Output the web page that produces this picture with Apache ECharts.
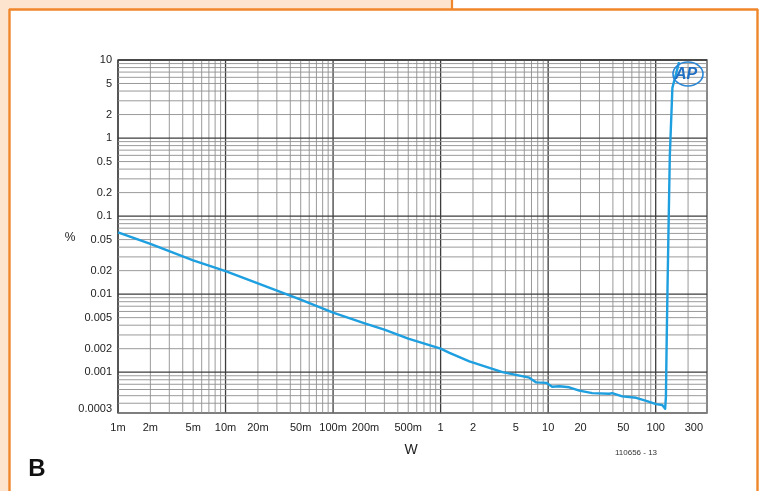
<!DOCTYPE html>
<html>
<head>
<meta charset="utf-8">
<script src="https://cdn.jsdelivr.net/npm/echarts@6/dist/echarts.min.js"></script>
<style>
  html, body { margin: 0; padding: 0; background: #ffffff; }
  #chart { width: 765px; height: 491px; }
</style>
</head>
<body>
<div id="chart"></div>
<script>
// THD+N (%) versus output power (W)
const powerW = [0.001, 0.002, 0.005, 0.01, 0.02, 0.05, 0.1, 0.2, 0.3, 0.5, 1, 1.21, 1.85,
  3.76, 6.68, 7.76, 9.6, 10.9, 12.7, 15.7, 19.5, 25.7, 37, 39.4, 48.9, 65.9, 81.6, 101, 115,
  122.5, 124.5, 126.5, 128.8, 132, 135.3, 143, 165];
const thdPct = [0.062, 0.044, 0.027, 0.0197, 0.0137, 0.0085, 0.0058, 0.0042, 0.0035, 0.0027, 0.002, 0.00177, 0.00138,
  0.001, 0.00085, 0.00074, 0.00073, 0.00065, 0.00066, 0.00064, 0.00058, 0.00054, 0.00053, 0.00054, 0.00049, 0.00047, 0.00043, 0.00039, 0.00038,
  0.00034, 0.00049, 0.0025, 0.012, 0.086, 0.59, 4.4, 9.4];

// Axis ranges and labelled ticks
const xMin = 0.001, xMax = 300;
const yMin = 0.0003, yMax = 10;
const xTickValues = [0.001, 0.002, 0.005, 0.01, 0.02, 0.05, 0.1, 0.2, 0.5, 1, 2, 5, 10, 20, 50, 100, 300];
const xTickLabels = ['1m', '2m', '5m', '10m', '20m', '50m', '100m', '200m', '500m', '1', '2', '5', '10', '20', '50', '100', '300'];
const yTickValues = [10, 5, 2, 1, 0.5, 0.2, 0.1, 0.05, 0.02, 0.01, 0.005, 0.002, 0.001, 0.0003];
const yTickLabels = ['10', '5', '2', '1', '0.5', '0.2', '0.1', '0.05', '0.02', '0.01', '0.005', '0.002', '0.001', '0.0003'];

// Log grid: 1..9 within each decade
const gridSteps = [1, 2, 3, 4, 5, 6, 7, 8, 9];
function logGrid(lo, hi) {
  const out = [];
  for (let e = Math.floor(Math.log10(lo)); e <= Math.ceil(Math.log10(hi)); e++) {
    gridSteps.forEach(s => {
      const v = +(s * Math.pow(10, e)).toPrecision(6);
      if (v >= lo * 0.9999 && v <= hi * 1.0001) out.push(v);
    });
  }
  return out;
}
const xGrid = logGrid(xMin, xMax);
const yGrid = logGrid(yMin, yMax);
const isDecade = v => Math.abs(Math.log10(v) - Math.round(Math.log10(v))) < 1e-6;

const FONT = '"Liberation Sans", Arial, sans-serif';
const chart = echarts.init(document.getElementById('chart'), null, { renderer: 'canvas' });

const majorStyle = { stroke: '#3d3d3d', lineWidth: 1.3 };
const minorStyle = { stroke: '#8e8e8e', lineWidth: 0.9 };

chart.setOption({
  animation: false,
  backgroundColor: '#ffffff',
  grid: { left: 118, right: 58, top: 60, bottom: 78, show: true, borderColor: '#444', borderWidth: 1.3, backgroundColor: 'transparent' },
  xAxis: {
    type: 'log', logBase: 10, min: xMin, max: xMax,
    axisLine: { show: false }, axisTick: { show: false }, axisLabel: { show: false }, splitLine: { show: false }
  },
  yAxis: {
    type: 'log', logBase: 10, min: yMin, max: yMax,
    axisLine: { show: false }, axisTick: { show: false }, axisLabel: { show: false }, splitLine: { show: false }
  },
  series: [
    {
      name: 'xGrid', type: 'custom', silent: true, z: 1,
      data: xGrid.map(v => [v, yMin]),
      renderItem: (params, api) => {
        const v = api.value(0);
        const a = api.coord([v, yMin]), b = api.coord([v, yMax]);
        return { type: 'line', shape: { x1: a[0], y1: a[1], x2: b[0], y2: b[1] }, style: isDecade(v) ? majorStyle : minorStyle };
      }
    },
    {
      name: 'yGrid', type: 'custom', silent: true, z: 1,
      data: yGrid.map(v => [xMin, v]),
      renderItem: (params, api) => {
        const v = api.value(1);
        const a = api.coord([xMin, v]), b = api.coord([xMax, v]);
        return { type: 'line', shape: { x1: a[0], y1: a[1], x2: b[0], y2: b[1] }, style: isDecade(v) ? majorStyle : minorStyle };
      }
    },
    {
      name: 'xLabels', type: 'custom', silent: true, z: 2,
      data: xTickValues.map(v => [v, yMin]),
      renderItem: (params, api) => {
        const p = api.coord([api.value(0), yMin]);
        const last = params.dataIndex === xTickValues.length - 1;
        return {
          type: 'text', x: last ? p[0] - 4 : p[0], y: p[1] + 15,
          style: { text: xTickLabels[params.dataIndex], fill: '#222', font: '11px ' + FONT, align: last ? 'right' : 'center', verticalAlign: 'middle' }
        };
      }
    },
    {
      name: 'yLabels', type: 'custom', silent: true, z: 2,
      data: yTickValues.map(v => [xMin, v]),
      renderItem: (params, api) => {
        const p = api.coord([xMin, api.value(1)]);
        const last = params.dataIndex === yTickValues.length - 1;
        return {
          type: 'text', x: p[0] - 6, y: last ? p[1] + 1 : p[1],
          style: { text: yTickLabels[params.dataIndex], fill: '#222', font: '11px ' + FONT, align: 'right', verticalAlign: last ? 'bottom' : 'middle' }
        };
      }
    },
    {
      name: 'THD+N', type: 'line', z: 5,
      data: powerW.map((w, i) => [w, thdPct[i]]),
      showSymbol: false, smooth: false,
      lineStyle: { color: '#1d9fe0', width: 2.4, join: 'round' }
    }
  ],
  graphic: [
    // page frame
    { type: 'rect', shape: { x: 0, y: 0, width: 452, height: 9 }, style: { fill: '#fde4cf' }, z: 0 },
    { type: 'rect', shape: { x: 0, y: 0, width: 9, height: 491 }, style: { fill: '#fde4cf' }, z: 0 },
    { type: 'line', shape: { x1: 452, y1: 0, x2: 452, y2: 10 }, style: { stroke: '#f0862a', lineWidth: 2.2 }, z: 1 },
    { type: 'line', shape: { x1: 9, y1: 9.5, x2: 758, y2: 9.5 }, style: { stroke: '#f0862a', lineWidth: 2.4 }, z: 1 },
    { type: 'line', shape: { x1: 9.5, y1: 9, x2: 9.5, y2: 491 }, style: { stroke: '#f0862a', lineWidth: 2.4 }, z: 1 },
    { type: 'line', shape: { x1: 757.5, y1: 9, x2: 757.5, y2: 491 }, style: { stroke: '#f0862a', lineWidth: 2.4 }, z: 1 },
    // axis titles and notes
    { type: 'text', x: 70, y: 238, style: { text: '%', font: '12px ' + FONT, fill: '#222', align: 'center', verticalAlign: 'middle' } },
    { type: 'text', x: 411, y: 450, style: { text: 'W', font: '14px ' + FONT, fill: '#222', align: 'center', verticalAlign: 'middle' } },
    { type: 'text', x: 636, y: 453, style: { text: '110656 - 13', font: '8px ' + FONT, fill: '#333', align: 'center', verticalAlign: 'middle' } },
    { type: 'text', x: 37, y: 469, style: { text: 'B', font: 'bold 24px ' + FONT, fill: '#111', align: 'center', verticalAlign: 'middle' } },
    // AP logo
    { type: 'ellipse', shape: { cx: 688, cy: 74, rx: 15, ry: 12 }, style: { fill: 'none', stroke: '#2a86d6', lineWidth: 1.6 }, z: 6 },
    { type: 'text', x: 686, y: 75, style: { text: 'AP', font: 'italic bold 16px ' + FONT, fill: '#1f6fc4', align: 'center', verticalAlign: 'middle' }, z: 6 }
  ]
});
</script>
</body>
</html>
